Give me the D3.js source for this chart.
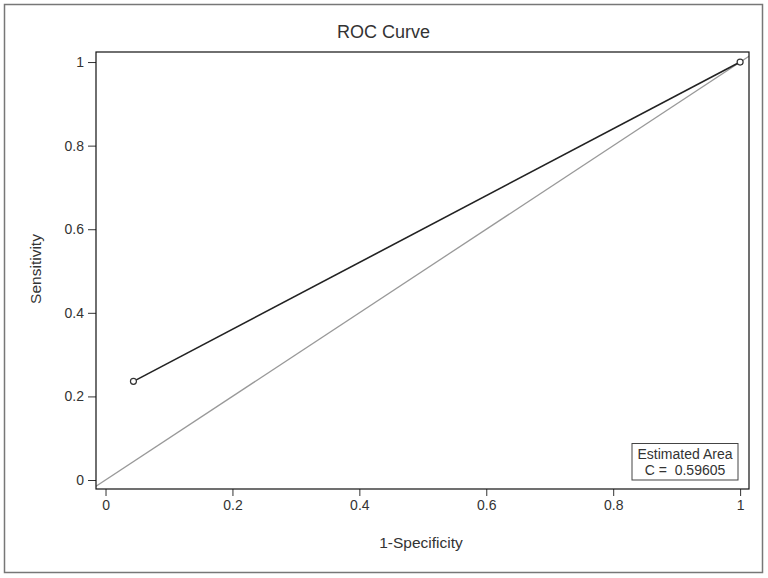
<!DOCTYPE html>
<html><head><meta charset="utf-8">
<script src="https://cdn.jsdelivr.net/npm/d3@7"></script>
<style>body{margin:0;background:#fff;} text{font-family:"Liberation Sans",Arial,sans-serif;white-space:pre;}</style>
</head><body>
<svg id="c" width="768" height="578"></svg>
<script>
const rocX = [0.044, 1];
const rocY = [0.236, 1];
const xTicks = [0, 0.2, 0.4, 0.6, 0.8, 1];
const yTicks = [0, 0.2, 0.4, 0.6, 0.8, 1];
const areaLabel = ["Estimated Area", "C =  0.59605"];
const title = "ROC Curve", xLabel = "1-Specificity", yLabel = "Sensitivity";

const svg = d3.select("#c");
const L = 96, R = 749, T = 52, B = 489;
const x = d3.scaleLinear().domain([-0.015, 1.014]).range([L, R]);
const y = d3.scaleLinear().domain([-0.0215, 1.024]).range([B, T]);

svg.append("rect").attr("x",4.5).attr("y",4.5).attr("width",758).attr("height",568)
  .attr("fill","#fff").attr("stroke","#777").attr("stroke-width",1.5);

svg.append("text").attr("x",383.5).attr("y",38).attr("text-anchor","middle")
  .attr("font-size",18).attr("fill","#333").text(title);

svg.append("defs").append("clipPath").attr("id","clip").append("rect")
  .attr("x",L).attr("y",T).attr("width",R-L).attr("height",B-T);

const xAxis = svg.append("g").attr("transform",`translate(0,${B})`)
  .call(d3.axisBottom(x).tickValues(xTicks).tickFormat(d3.format("~g")).tickSizeOuter(0).tickSizeInner(7).tickPadding(4));
const yAxis = svg.append("g").attr("transform",`translate(${L},0)`)
  .call(d3.axisLeft(y).tickValues(yTicks).tickFormat(d3.format("~g")).tickSizeOuter(0).tickSizeInner(8).tickPadding(4));
[xAxis,yAxis].forEach(a=>{
  a.select(".domain").remove();
  a.selectAll("line").attr("stroke","#333");
  a.selectAll("text").attr("font-size",14).attr("fill","#333")
   .attr("font-family","'Liberation Sans',Arial,sans-serif");
});

const g = svg.append("g").attr("clip-path","url(#clip)");
g.append("line").attr("x1",x(-0.1)).attr("y1",y(-0.1)).attr("x2",x(1.1)).attr("y2",y(1.1))
  .attr("stroke","#999").attr("stroke-width",1.3);
const pts = rocX.map((v,i)=>[v,rocY[i]]);
g.append("path").attr("d",d3.line().x(d=>x(d[0])).y(d=>y(d[1]))(pts))
  .attr("fill","none").attr("stroke","#222").attr("stroke-width",1.6);
g.selectAll("circle").data(pts).join("circle").attr("cx",d=>x(d[0])).attr("cy",d=>y(d[1]))
  .attr("r",3).attr("fill","#fff").attr("stroke","#333").attr("stroke-width",1.2);

svg.append("rect").attr("x",L).attr("y",T).attr("width",R-L).attr("height",B-T)
  .attr("fill","none").attr("stroke","#111").attr("stroke-width",1.2);

// legend box
svg.append("rect").attr("x",632).attr("y",443.5).attr("width",106).attr("height",36.5)
  .attr("fill","#fff").attr("stroke","#444").attr("stroke-width",1);
areaLabel.forEach((t,i)=>svg.append("text").attr("x",685).attr("y",459+i*15.5)
  .attr("text-anchor","middle").attr("xml:space","preserve").attr("font-size",14).attr("fill","#333").text(t));

svg.append("text").attr("x",421).attr("y",548).attr("text-anchor","middle")
  .attr("font-size",15.5).attr("fill","#333").text(xLabel);
svg.append("text").attr("transform","translate(41,269) rotate(-90)").attr("text-anchor","middle")
  .attr("font-size",15.5).attr("fill","#333").text(yLabel);
</script>
</body></html>
